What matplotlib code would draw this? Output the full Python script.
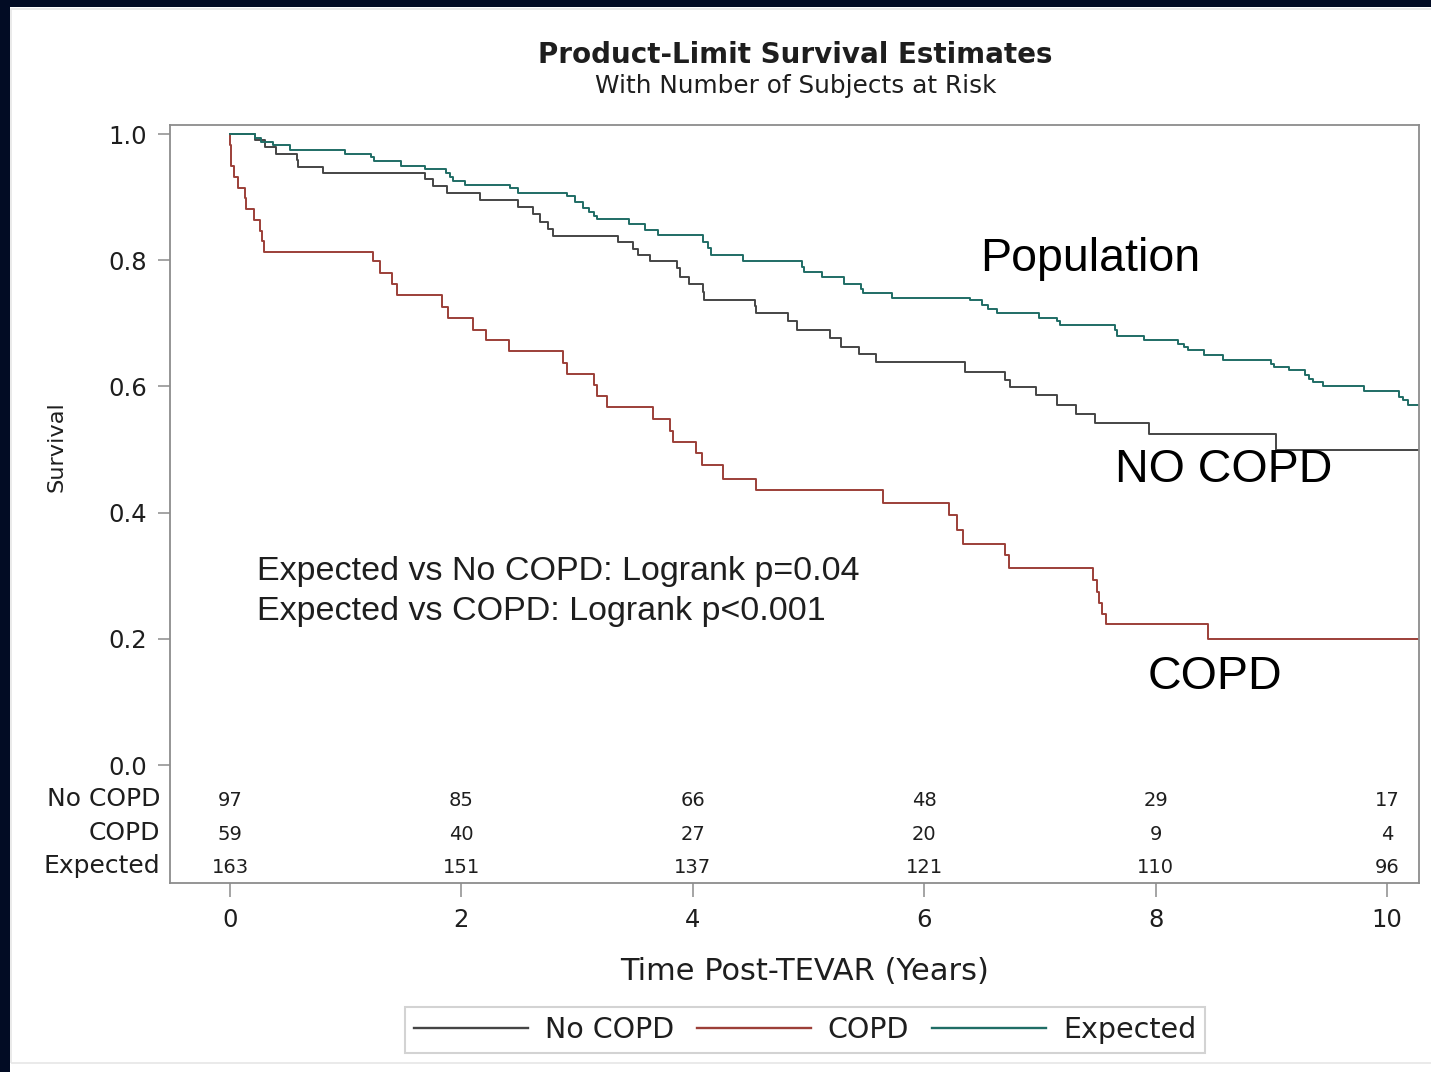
import matplotlib
matplotlib.use("Agg")
import matplotlib.pyplot as plt
from matplotlib.lines import Line2D
from matplotlib.patches import Rectangle

# ---- Kaplan-Meier step data (time in years, survival after each event) ----
no_copd_time = [0, 0.22, 0.30, 0.40, 0.575, 0.59, 0.80, 1.685, 1.757, 1.872, 2.16, 2.49,
                2.62, 2.68, 2.75, 2.79, 3.356, 3.486, 3.53, 3.63, 3.86, 3.89, 3.97, 4.09,
                4.10, 4.54, 4.55, 4.824, 4.90, 5.19, 5.28, 5.44, 5.58, 6.35, 6.70, 6.74,
                6.97, 7.15, 7.31, 7.48, 7.94, 9.04, 10.28]
no_copd_surv = [1.0, 0.990, 0.979, 0.969, 0.959, 0.948, 0.938, 0.928, 0.918, 0.907, 0.896, 0.885,
                0.873, 0.861, 0.850, 0.839, 0.829, 0.818, 0.808, 0.798, 0.787, 0.773, 0.762, 0.750,
                0.737, 0.727, 0.717, 0.703, 0.690, 0.676, 0.663, 0.652, 0.638, 0.623, 0.610, 0.599,
                0.586, 0.571, 0.557, 0.542, 0.525, 0.500, 0.500]

copd_time = [0, 0.003, 0.006, 0.01, 0.03, 0.07, 0.13, 0.14, 0.21, 0.26, 0.275, 0.29,
             1.233, 1.296, 1.397, 1.446, 1.83, 1.887, 2.103, 2.213, 2.414, 2.881, 2.910,
             3.146, 3.169, 3.256, 3.66, 3.80, 3.83, 4.025, 4.083, 4.265, 4.546, 5.64,
             6.217, 6.287, 6.335, 6.697, 6.729, 7.456, 7.49, 7.51, 7.54, 7.568, 8.457, 10.28]
copd_surv = [1.0, 0.983, 0.966, 0.949, 0.932, 0.915, 0.898, 0.881, 0.864, 0.847, 0.830, 0.813,
             0.798, 0.779, 0.763, 0.745, 0.726, 0.708, 0.690, 0.673, 0.656, 0.637, 0.620,
             0.602, 0.585, 0.568, 0.549, 0.530, 0.512, 0.494, 0.475, 0.454, 0.436, 0.415,
             0.397, 0.372, 0.351, 0.333, 0.312, 0.293, 0.274, 0.256, 0.240, 0.223, 0.199, 0.199]

expected_time = [0, 0.22, 0.27, 0.37, 0.52, 0.99, 1.22, 1.24, 1.48, 1.685, 1.87, 1.90, 1.93,
                 2.03, 2.42, 2.49, 2.91, 2.98, 3.054, 3.10, 3.15, 3.17, 3.45, 3.59, 3.70,
                 4.09, 4.13, 4.16, 4.43, 4.94, 4.96, 5.12, 5.31, 5.45, 5.47, 5.72, 6.40,
                 6.50, 6.55, 6.63, 6.99, 7.15, 7.17, 7.65, 7.67, 7.90, 8.19, 8.25, 8.28,
                 8.42, 8.58, 9.00, 9.02, 9.15, 9.29, 9.33, 9.36, 9.45, 9.80, 10.10, 10.14,
                 10.18, 10.28]
expected_surv = [1.0, 0.994, 0.988, 0.982, 0.975, 0.969, 0.963, 0.957, 0.950, 0.944, 0.938, 0.932, 0.925,
                 0.920, 0.914, 0.907, 0.901, 0.893, 0.882, 0.876, 0.870, 0.865, 0.857, 0.848, 0.840,
                 0.829, 0.819, 0.808, 0.798, 0.790, 0.782, 0.774, 0.763, 0.755, 0.748, 0.740, 0.737,
                 0.729, 0.722, 0.716, 0.708, 0.703, 0.697, 0.689, 0.680, 0.674, 0.668, 0.663, 0.658,
                 0.650, 0.642, 0.636, 0.631, 0.626, 0.618, 0.612, 0.607, 0.600, 0.592, 0.584, 0.578,
                 0.570, 0.570]

# ---- Number at risk table ----
risk_times = [0, 2, 4, 6, 8, 10]
risk_groups = ["No COPD", "COPD", "Expected"]
risk_no_copd = [97, 85, 66, 48, 29, 17]
risk_copd = [59, 40, 27, 20, 9, 4]
risk_expected = [163, 151, 137, 121, 110, 96]

y_ticks = [0.0, 0.2, 0.4, 0.6, 0.8, 1.0]
x_ticks = [0, 2, 4, 6, 8, 10]

# ---- styling ----
C_NO = "#454545"
C_COPD = "#9c3f38"
C_EXP = "#1f6d65"
TXT = "#1e1e1e"
AXC = "#8c8c8c"
SAS_FONT = ["DejaVu Sans"]
PPT_FONT = ["Liberation Sans", "DejaVu Sans"]

W, H = 1431, 1072
fig = plt.figure(figsize=(W / 100, H / 100), dpi=100)
fig.patch.set_facecolor("white")


def fx(px):
    return px / W


def fy(py):
    return 1 - py / H


# dark frame strips along top and left edges
fig.patches.append(Rectangle((0, fy(7)), 1, 1 - fy(7), transform=fig.transFigure,
                             facecolor="#020c24", edgecolor="none", zorder=0))
fig.patches.append(Rectangle((0, 0), fx(10), 1, transform=fig.transFigure,
                             facecolor="#020c24", edgecolor="none", zorder=0))
fig.patches.append(Rectangle((fx(11), fy(1063)), 1.2 - fx(11), fy(9) - fy(1063),
                             transform=fig.transFigure, facecolor="none",
                             edgecolor="#e6e6e6", linewidth=1.2, zorder=0))

ax = fig.add_axes([fx(170), fy(883), fx(1419) - fx(170), fy(125) - fy(883)])
ax.set_xlim(-0.519, 10.277)
ax.set_ylim(-0.187, 1.0143)

ax.step(no_copd_time, no_copd_surv, where="post", color=C_NO, lw=1.4)
ax.step(copd_time, copd_surv, where="post", color=C_COPD, lw=1.4)
ax.step(expected_time, expected_surv, where="post", color=C_EXP, lw=1.4)

for s in ax.spines.values():
    s.set_color(AXC)
    s.set_linewidth(1.3)

ax.set_yticks(y_ticks)
ax.set_yticklabels([f"{v:.1f}" for v in y_ticks], fontsize=17.5, color=TXT, family=SAS_FONT)
ax.set_xticks(x_ticks)
ax.set_xticklabels([str(v) for v in x_ticks], fontsize=17.5, color=TXT, family=SAS_FONT)
ax.tick_params(axis="y", length=8.6, width=1.1, color=AXC, pad=8)
ax.tick_params(axis="x", length=10, width=1.1, color=AXC, pad=8)

# number at risk rows inside the plot frame
risk_rows = [risk_no_copd, risk_copd, risk_expected]
row_y = [-0.065, -0.119, -0.171]
for label, row, yv in zip(risk_groups, risk_rows, row_y):
    ax.text(-0.605, yv, label, ha="right", va="baseline", fontsize=18,
            color=TXT, family=SAS_FONT, clip_on=False)
    for t, n in zip(risk_times, row):
        ax.text(t, yv, str(n), ha="center", va="baseline", fontsize=14,
                color=TXT, family=SAS_FONT)

# curve labels and test results
ax.text(6.482, 0.783, "Population", fontsize=33.5, family=PPT_FONT, color="black", va="baseline")
ax.text(7.649, 0.4485, "NO COPD", fontsize=33.5, family=PPT_FONT, color="black", va="baseline")
ax.text(7.934, 0.120, "COPD", fontsize=33.5, family=PPT_FONT, color="black", va="baseline")
ax.text(0.233, 0.293, "Expected vs No COPD: Logrank p=0.04", fontsize=24.5,
        family=PPT_FONT, color=TXT, va="baseline")
ax.text(0.233, 0.230, "Expected vs COPD: Logrank p<0.001", fontsize=24.5,
        family=PPT_FONT, color=TXT, va="baseline")

# titles and axis labels
fig.text(fx(795), fy(63), "Product-Limit Survival Estimates", ha="center", va="baseline",
         fontsize=20, fontweight="bold", color=TXT, family=SAS_FONT)
fig.text(fx(796), fy(93), "With Number of Subjects at Risk", ha="center", va="baseline",
         fontsize=17.8, color=TXT, family=SAS_FONT)
fig.text(fx(805), fy(972), "Time Post-TEVAR (Years)", ha="center", va="center",
         fontsize=22, color=TXT, family=SAS_FONT)
fig.text(fx(57), fy(447), "Survival", ha="center", va="center", rotation=90,
         fontsize=16.2, color=TXT, family=SAS_FONT)

handles = [Line2D([], [], color=C_NO, lw=1.7),
           Line2D([], [], color=C_COPD, lw=1.7),
           Line2D([], [], color=C_EXP, lw=1.7)]
leg = fig.legend(handles, risk_groups, loc="center", bbox_to_anchor=(fx(805), fy(1030)),
                 ncol=3, frameon=True, fancybox=False, handlelength=4.0,
                 handletextpad=0.6, columnspacing=0.8, borderpad=0.3,
                 prop={"family": SAS_FONT, "size": 20.5})
leg.get_frame().set_edgecolor("#c8c8c8")
leg.get_frame().set_linewidth(1.5)
for t in leg.get_texts():
    t.set_color(TXT)

fig.savefig("out.png", dpi=100)
